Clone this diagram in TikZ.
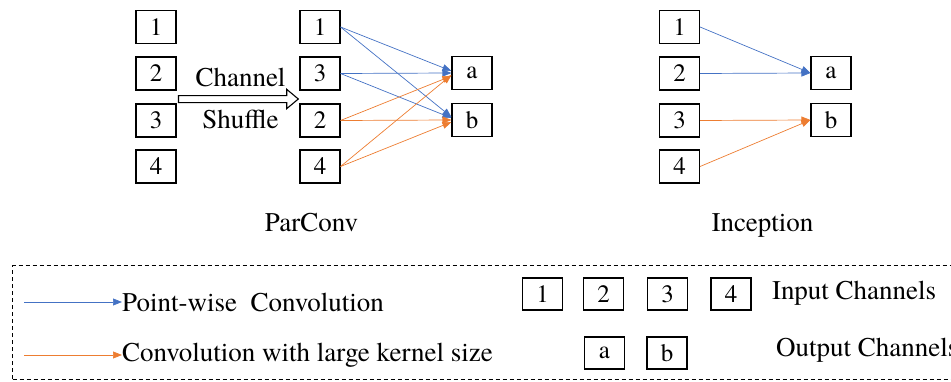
\documentclass[tikz,border=0pt]{standalone}
\usepackage{fontspec}
\setmainfont{TeX Gyre Termes}
\usetikzlibrary{arrows.meta}
\definecolor{pwblue}{RGB}{68,114,196}
\definecolor{lkorange}{RGB}{237,125,49}
\tikzset{
  chbox/.style={draw=black, line width=1.1pt, minimum width=40pt, minimum height=33pt, inner sep=0pt, font=\fontsize{25}{28}\selectfont},
  lgbox/.style={chbox, minimum height=32pt},
  lbl/.style={inner sep=0pt, font=\fontsize{27}{31}\selectfont},
  pw/.style={draw=pwblue, line width=0.7pt, -{Triangle[length=9pt,width=7pt]}},
  lk/.style={draw=lkorange, line width=0.7pt, -{Triangle[length=9pt,width=7pt]}},
}
\begin{document}
\begin{tikzpicture}[x=1pt,y=-1pt]
\useasboundingbox (0,0) rectangle (951,382);
% ParConv: original channels
\node[chbox] (l1) at (156,27) {1};
\node[chbox] (l2) at (156,73.5) {2};
\node[chbox] (l3) at (156,120.5) {3};
\node[chbox] (l4) at (156,166.5) {4};
% shuffled channels
\node[chbox] (m1) at (320,27) {1};
\node[chbox] (m3) at (320,73.5) {3};
\node[chbox] (m2) at (320,120.5) {2};
\node[chbox] (m4) at (320,166.5) {4};
% outputs
\node[chbox] (pa) at (472,73) {a};
\node[chbox] (pb) at (472,120) {b};
% channel shuffle block arrow
\draw[line width=1.1pt, fill=white, line join=miter]
  (178.5,95.7) -- (286.7,95.7) -- (286.7,89.3) -- (298.3,99) -- (286.7,108.7) -- (286.7,102.7) -- (178.5,102.7) -- cycle;
\node[lbl, anchor=base] (cht) at (240.5,87) {Channel};
\node[lbl, anchor=base] (sht) at (240.5,129) {Shuffle};
% ParConv connectors
\draw[pw] (m1.east) -- ([yshift=2pt]pa.west);
\draw[pw] (m1.east) -- ([yshift=3pt]pb.west);
\draw[pw] (m3.east) -- (pa.west);
\draw[pw] (m3.east) -- ([yshift=2pt]pb.west);
\draw[lk] (m2.east) -- ([yshift=-3pt]pa.west);
\draw[lk] (m2.east) -- (pb.west);
\draw[lk] (m4.east) -- ([yshift=-2pt]pa.west);
\draw[lk] (m4.east) -- ([yshift=-2pt]pb.west);
\node[lbl, anchor=base] (pct) at (311.5,231.5) {ParConv};
% Inception
\node[chbox] (i1) at (679.5,27) {1};
\node[chbox] (i2) at (679.5,73.5) {2};
\node[chbox] (i3) at (679.5,120.5) {3};
\node[chbox] (i4) at (679.5,166.5) {4};
\node[chbox] (ia) at (831,73) {a};
\node[chbox] (ib) at (831,120) {b};
\draw[pw] (i1.east) -- (ia.west);
\draw[pw] (i2.east) -- (ia.west);
\draw[lk] (i3.east) -- (ib.west);
\draw[lk] (i4.east) -- (ib.west);
\node[lbl, anchor=base] (inct) at (762.5,231.5) {Inception};
% legend
\draw[line width=1pt, dash pattern=on 4pt off 3pt] (12.5,379) -- (12.5,266) -- (960,266);
\draw[line width=1pt, dash pattern=on 4pt off 3pt] (12.5,379) -- (960,379);
\coordinate (bs) at (24,302);
\coordinate (os) at (24,355);
\node[lbl, anchor=west] (bt) at (122,302) {Point-wise\ \ Convolution};
\node[lbl, anchor=west] (ot) at (122,355) {Convolution with large kernel size};
\draw[pw] (bs) -- (bt.west);
\draw[lk] (os) -- (ot.west);
\node[lgbox] (g1) at (542.7,294) {1};
\node[lgbox] (g2) at (603.5,294) {2};
\node[lgbox] (g3) at (667.5,294) {3};
\node[lgbox] (g4) at (731,294) {4};
\node[lbl, anchor=west] (ict) at (772,293) {Input Channels};
\node[lgbox] (ga) at (604.5,353) {a};
\node[lgbox] (gb) at (667,353) {b};
\node[lbl, anchor=west] (oct) at (776,350) {Output Channels};
\end{tikzpicture}
\end{document}
